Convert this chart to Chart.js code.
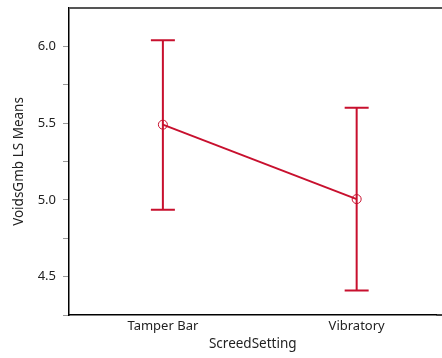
<!DOCTYPE html>
<html>
<head>
<meta charset="utf-8">
<script src="https://cdn.jsdelivr.net/npm/chart.js@4"></script>
<style>
  html, body { margin: 0; padding: 0; background: #fff; }
  #wrap { width: 442px; height: 358px; }
</style>
</head>
<body>
<div id="wrap"><canvas id="chart" width="442" height="358"></canvas></div>
<script>
const categories = ["Tamper Bar", "Vibratory"];
const lsMeans = [5.49, 5.005];
const upperCI = [6.04, 5.60];
const lowerCI = [4.935, 4.41];
const yTickLabels = [4.5, 5.0, 5.5, 6.0];

const red = "#c8102e";

// error bars + frame lines, drawn from the data through the chart scales
const errorBars = {
  id: "errorBars",
  afterDatasetsDraw(chart) {
    const ctx = chart.ctx;
    const x = chart.scales.x, y = chart.scales.y;
    ctx.save();
    ctx.strokeStyle = red;
    ctx.lineWidth = 2;
    for (let i = 0; i < categories.length; i++) {
      const px = x.getPixelForValue(i);
      const top = y.getPixelForValue(upperCI[i]);
      const bot = y.getPixelForValue(lowerCI[i]);
      ctx.beginPath();
      ctx.moveTo(px, top); ctx.lineTo(px, bot);
      ctx.moveTo(px - 12, top); ctx.lineTo(px + 12, top);
      ctx.moveTo(px - 12, bot); ctx.lineTo(px + 12, bot);
      ctx.stroke();
    }
    const a = chart.chartArea;
    ctx.strokeStyle = "#555";
    ctx.lineWidth = 2;
    ctx.beginPath();
    ctx.moveTo(a.left, a.top); ctx.lineTo(chart.width, a.top);
    ctx.stroke();
    ctx.strokeStyle = "#000";
    ctx.lineWidth = 1.5;
    ctx.beginPath();
    ctx.moveTo(a.right, a.bottom); ctx.lineTo(chart.width, a.bottom);
    ctx.stroke();
    ctx.restore();
  }
};

const font = { family: "Noto Sans", size: 13 };

new Chart("chart", {
  type: "line",
  data: {
    datasets: [{
      data: lsMeans.map((v, i) => ({ x: i, y: v })),
      borderColor: red,
      borderWidth: 2,
      pointRadius: 4.5,
      pointBorderWidth: 1,
      pointBackgroundColor: "rgba(0,0,0,0)",
      pointBorderColor: red,
      tension: 0
    }]
  },
  plugins: [errorBars],
  options: {
    responsive: false,
    animation: false,
    layout: { padding: { top: 8, right: 0, left: 0, bottom: 6 } },
    plugins: { legend: { display: false }, tooltip: { enabled: false } },
    scales: {
      x: {
        type: "linear",
        min: -0.4845,
        max: 1.412,
        afterBuildTicks: (s) => { s.ticks = categories.map((c, i) => ({ value: i })); },
        afterFit: (s) => { s.height = 37; },
        ticks: {
          callback: (v) => categories[v],
          color: "#222",
          font: font,
          padding: 3,
          maxRotation: 0
        },
        grid: { display: false, drawTicks: false },
        border: { color: "#000", width: 1.5 },
        title: {
          display: true,
          text: "ScreedSetting",
          color: "#222",
          font: { family: "Noto Sans", size: 13.5 },
          padding: { top: 0, bottom: 0 }
        }
      },
      y: {
        min: 4.25,
        max: 6.25,
        afterBuildTicks: (s) => {
          const t = [];
          for (let v = 4.25; v <= 6.0001; v += 0.25) t.push({ value: Math.round(v * 100) / 100 });
          s.ticks = t;
        },
        afterFit: (s) => { s.width = 69; s.paddingTop = 0; s.paddingBottom = 0; },
        ticks: {
          callback: (v) => yTickLabels.includes(v) ? v.toFixed(1) : "",
          color: "#222",
          font: font,
          padding: 7,
          autoSkip: false
        },
        grid: { drawOnChartArea: false, tickLength: 6, color: "#999", tickWidth: 1 },
        border: { color: "#000", width: 1.5 },
        title: {
          display: true,
          text: "VoidsGmb LS Means",
          color: "#222",
          font: { family: "Noto Sans", size: 13.5 },
          padding: { top: 11, bottom: 0 }
        }
      }
    }
  }
});
</script>
</body>
</html>
